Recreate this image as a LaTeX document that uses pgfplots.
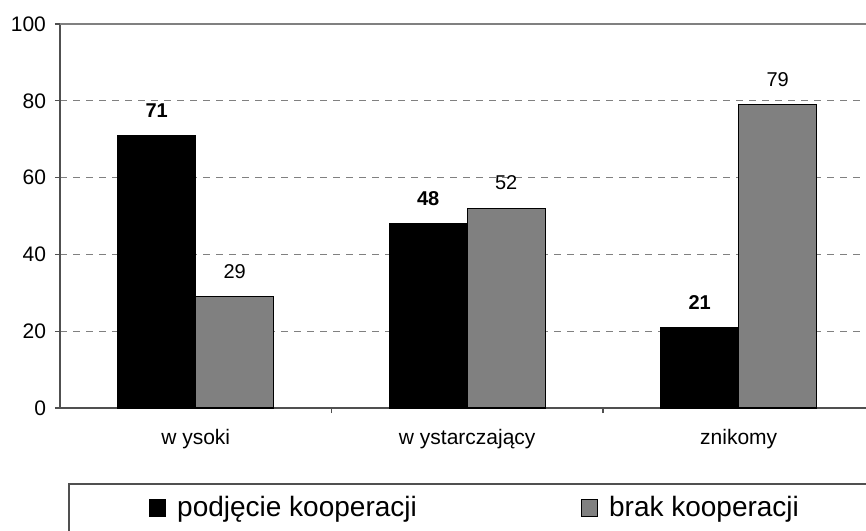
\documentclass[border=0pt]{standalone}
\usepackage{pgfplots}
\pgfplotsset{compat=1.18}
\usepackage{fontspec}
\setmainfont{Liberation Sans}
\definecolor{bargray}{HTML}{808080}
\definecolor{gridgray}{HTML}{808080}
\definecolor{axgray}{HTML}{505050}
\begin{document}
\begin{tikzpicture}
\begin{axis}[
  at={(30pt,61pt)}, anchor=south west,
  scale only axis, width=403pt, height=192pt,
  ybar=0pt, bar width=39pt,
  xmin=-0.5, xmax=2.469, ymin=0, ymax=100,
  axis x line=bottom, axis y line=left,
  axis line style={-, axgray, line width=0.6pt},
  /pgf/number format/assume math mode=true,
  tick label style={font=\fontsize{10.5}{12}\selectfont},
  ytick={0,20,40,60,80},
  extra y ticks={100},
  extra y tick style={grid style={solid, gridgray, line width=0.65pt}},
  ymajorgrids,
  grid style={gridgray, line width=0.65pt, dash pattern=on 3.5pt off 3pt},
  xtick={0.5,1.5}, xticklabels={},
  extra x ticks={0,1,2},
  extra x tick labels={w ysoki, w ystarczający, znikomy},
  extra x tick style={major tick length=0pt, xticklabel style={yshift=-7pt}},
  tick align=outside, major tick length=2.5pt,
  tick style={axgray, line width=0.6pt},
  yticklabel style={xshift=-1pt},
  nodes near coords,
  every node near coord/.append style={font=\fontsize{10}{12}\selectfont, yshift=5.5pt, black},
  every axis plot post/.append style={legend image code/.code={\draw[#1, line width=0.6pt] (0pt,-4.25pt) rectangle (8pt,4.25pt);}},
  legend style={draw=none, fill=none, at={(0,0)}, anchor=west, xshift=44.5pt, yshift=-50pt,
    inner sep=0pt, outer sep=0pt, legend columns=2,
    font=\fontsize{14}{16}\selectfont,
    /tikz/every odd column/.append style={column sep=3.5pt},
    /tikz/every even column/.append style={column sep=80pt}},
]
\addplot[fill=black, draw=black, line width=0.6pt,
  every node near coord/.append style={font=\fontsize{10}{12}\selectfont\bfseries}]
  coordinates {(0,71) (1,48) (2,21)};
\addlegendentry{podjęcie kooperacji}
\addplot[fill=bargray, draw=black, line width=0.6pt]
  coordinates {(0,29) (1,52) (2,79)};
\addlegendentry{brak kooperacji}
\end{axis}
\draw[axgray, line width=0.6pt] (34.5pt,-5pt) -- (34.5pt,23pt) -- (440pt,23pt);
\pgfresetboundingbox
\useasboundingbox (0,0) rectangle (433pt,265pt);
\end{tikzpicture}
\end{document}
